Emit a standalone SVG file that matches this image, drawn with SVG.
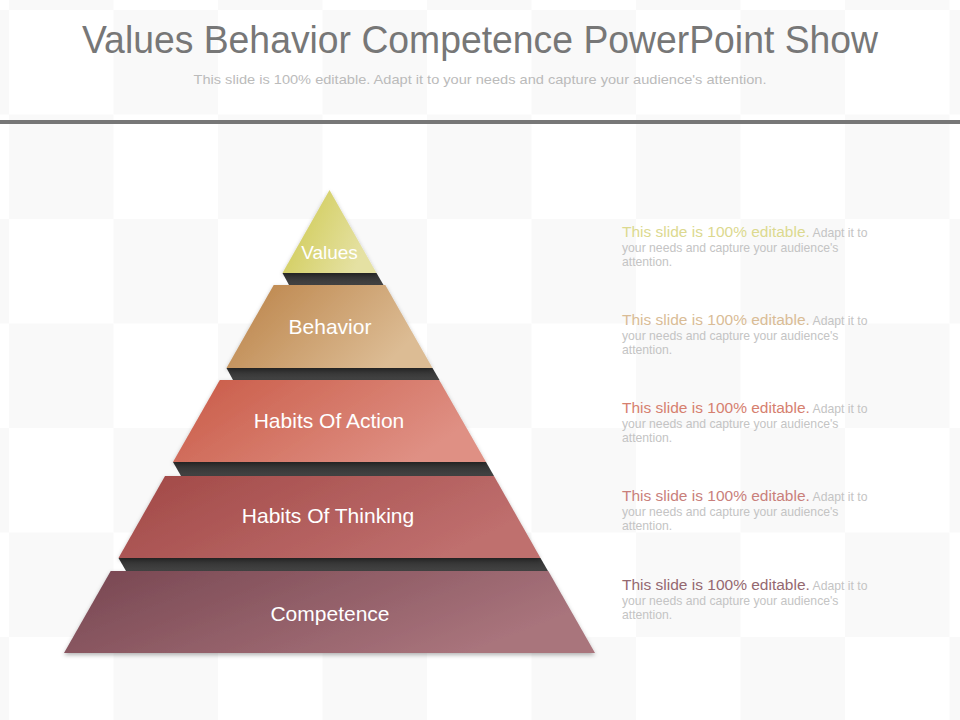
<svg xmlns="http://www.w3.org/2000/svg" width="960" height="720" viewBox="0 0 960 720">
<defs>
<pattern id="checker" x="9" y="10" width="209" height="209" patternUnits="userSpaceOnUse">
<rect x="104.5" y="0" width="104.5" height="104.5" fill="#f9f9f9"/>
<rect x="0" y="104.5" width="104.5" height="104.5" fill="#f9f9f9"/>
</pattern>
<linearGradient id="gVal" x1="0" y1="0" x2="1" y2="0.4"><stop offset="0" stop-color="#cdc84a"/><stop offset="1" stop-color="#e5e1a3"/></linearGradient>
<linearGradient id="gBeh" x1="0" y1="0" x2="1" y2="0.4"><stop offset="0" stop-color="#ba8146"/><stop offset="1" stop-color="#dcbc94"/></linearGradient>
<linearGradient id="gAct" x1="0" y1="0" x2="1" y2="0.4"><stop offset="0" stop-color="#c95a46"/><stop offset="1" stop-color="#df9084"/></linearGradient>
<linearGradient id="gThk" x1="0" y1="0" x2="1" y2="0.4"><stop offset="0" stop-color="#a14846"/><stop offset="1" stop-color="#bf6f6e"/></linearGradient>
<linearGradient id="gCmp" x1="0" y1="0" x2="1" y2="0.4"><stop offset="0" stop-color="#774651"/><stop offset="1" stop-color="#a9747c"/></linearGradient>
<linearGradient id="gBand" x1="0" y1="0" x2="0" y2="1"><stop offset="0" stop-color="#2f2f2f"/><stop offset="1" stop-color="#444"/></linearGradient>
<filter id="sh" x="-10%" y="-10%" width="120%" height="130%">
<feDropShadow dx="0" dy="2" stdDeviation="2" flood-color="#000" flood-opacity="0.3"/>
</filter>
</defs>
<style>
.title{font-family:"Liberation Sans",Arial,sans-serif;font-size:38px;fill:#777;}
.sub{font-family:"Liberation Sans",Arial,sans-serif;font-size:13px;fill:#bbb;}
.lbl{font-family:"Liberation Sans",Arial,sans-serif;font-size:21px;fill:#fff;text-anchor:middle;}
.band{fill:url(#gBand);}
.tier{filter:url(#sh);}
.desc{font-family:"Liberation Sans",Arial,sans-serif;font-size:12.2px;fill:#c4c4c4;}
.hl{font-size:15.5px;}
</style>
<rect x="0" y="0" width="960" height="720" fill="#fff"/>
<rect x="0" y="0" width="960" height="720" fill="url(#checker)"/>
<g id="header">
<text class="title" x="480" y="53" text-anchor="middle" textLength="796" lengthAdjust="spacingAndGlyphs">Values Behavior Competence PowerPoint Show</text>
<text class="sub" x="480" y="84" text-anchor="middle" textLength="573" lengthAdjust="spacingAndGlyphs">This slide is 100% editable. Adapt it to your needs and capture your audience's attention.</text>
<rect x="0" y="120" width="960" height="4" fill="#777"/>
</g>
<g id="connectors">
<polygon class="band" points="282.5,273 376.5,273 383.5,285 289,285"/>
<polygon class="band" points="226.5,368 432.5,368 439.5,380 233,380"/>
<polygon class="band" points="173,462 486,462 494,476 181,476"/>
<polygon class="band" points="118.5,558 540.5,558 548,571 126,571"/>
</g>
<g id="competence">
<polygon class="tier" points="110.7,571 548.3,571 595,653 64,653" fill="url(#gCmp)"/>
<text class="lbl" x="330" y="621">Competence</text>
</g>
<g id="habits-of-thinking">
<polygon class="tier" points="165,476 494,476 540.5,558 118.5,558" fill="url(#gThk)"/>
<text class="lbl" x="328" y="523">Habits Of Thinking</text>
</g>
<g id="habits-of-action">
<polygon class="tier" points="219.8,380 439.2,380 486,462 173,462" fill="url(#gAct)"/>
<text class="lbl" x="329" y="428">Habits Of Action</text>
</g>
<g id="behavior">
<polygon class="tier" points="273.7,285 385.3,285 432.5,368 226.5,368" fill="url(#gBeh)"/>
<text class="lbl" x="330" y="334">Behavior</text>
</g>
<g id="values">
<polygon class="tier" points="329.5,190 376.5,273 282.5,273" fill="url(#gVal)"/>
<text class="lbl" x="329.5" y="259" style="font-size:19px">Values</text>
</g>
<g id="desc1">
<text class="desc" x="622" y="237"><tspan class="hl" fill="#dcd98f">This slide is 100% editable.</tspan> Adapt it to</text>
<text class="desc" x="622" y="252">your needs and capture your audience's</text>
<text class="desc" x="622" y="266">attention.</text>
</g>
<g id="desc2">
<text class="desc" x="622" y="325"><tspan class="hl" fill="#d9bc96">This slide is 100% editable.</tspan> Adapt it to</text>
<text class="desc" x="622" y="340">your needs and capture your audience's</text>
<text class="desc" x="622" y="354">attention.</text>
</g>
<g id="desc3">
<text class="desc" x="622" y="413"><tspan class="hl" fill="#d6806f">This slide is 100% editable.</tspan> Adapt it to</text>
<text class="desc" x="622" y="428">your needs and capture your audience's</text>
<text class="desc" x="622" y="442">attention.</text>
</g>
<g id="desc4">
<text class="desc" x="622" y="501"><tspan class="hl" fill="#c97f7b">This slide is 100% editable.</tspan> Adapt it to</text>
<text class="desc" x="622" y="516">your needs and capture your audience's</text>
<text class="desc" x="622" y="530">attention.</text>
</g>
<g id="desc5">
<text class="desc" x="622" y="590"><tspan class="hl" fill="#946870">This slide is 100% editable.</tspan> Adapt it to</text>
<text class="desc" x="622" y="605">your needs and capture your audience's</text>
<text class="desc" x="622" y="619">attention.</text>
</g>
</svg>
